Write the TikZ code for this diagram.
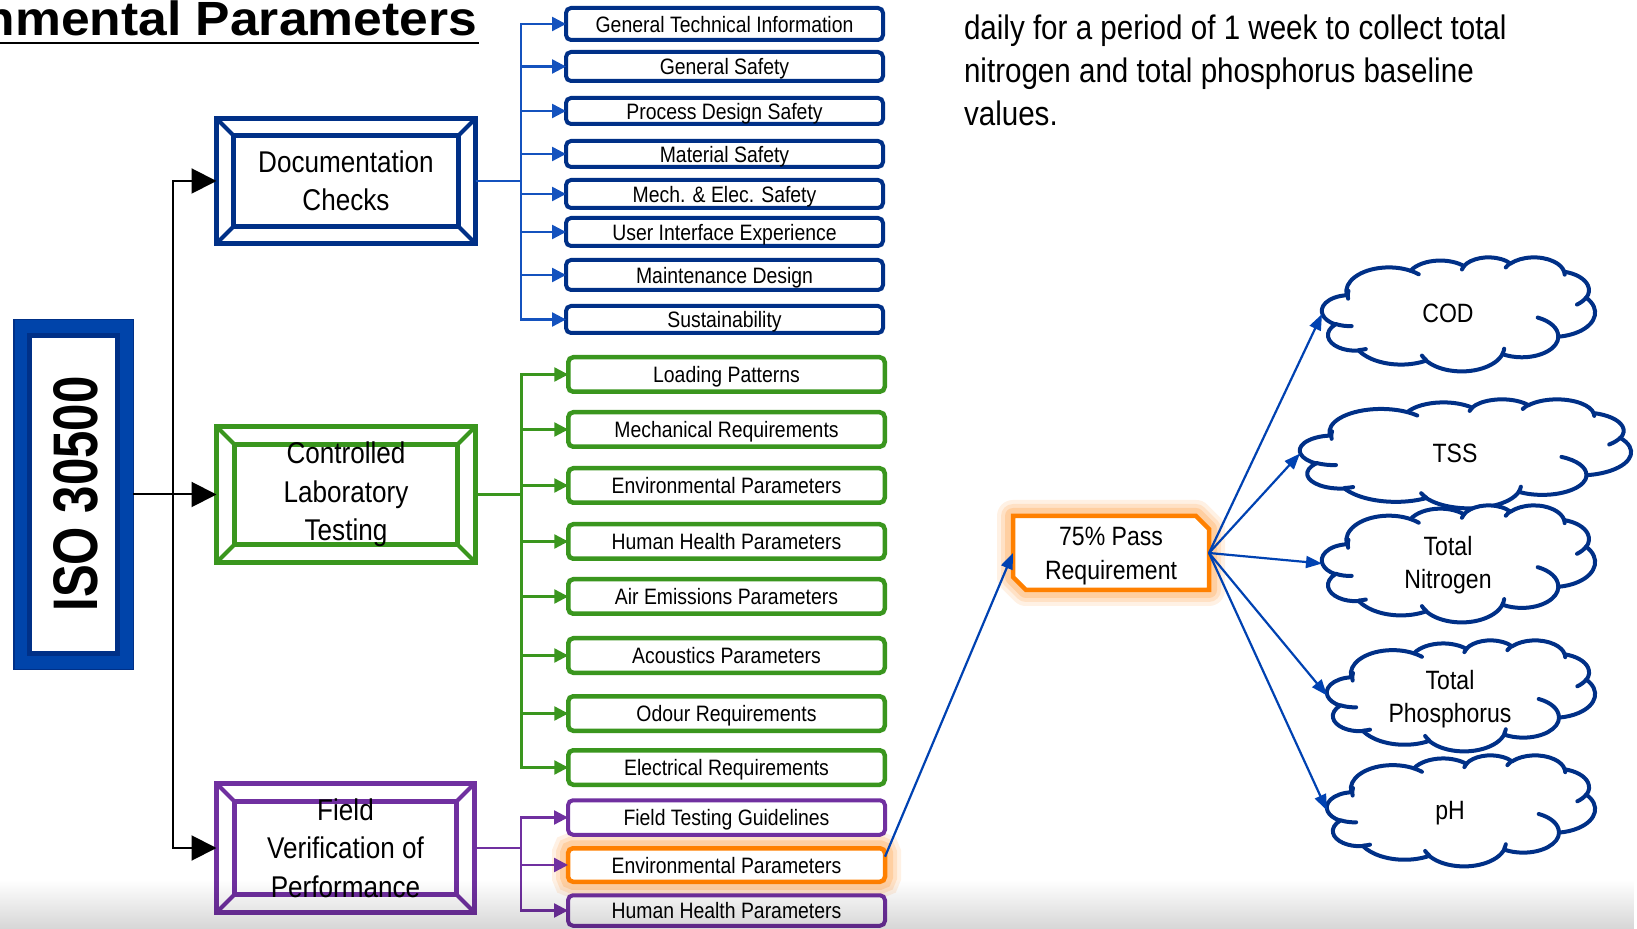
\documentclass[tikz,border=0pt]{standalone}
\usepackage{fontspec}
\setmainfont[FakeStretch=0.87]{Liberation Sans}
\newfontfamily\isofont[FakeStretch=0.78]{Liberation Sans}
\newfontfamily\titlefont[FakeStretch=1.075]{Liberation Sans}
\usetikzlibrary{arrows.meta,calc,fadings}

\definecolor{navy}{RGB}{0,48,135}
\definecolor{isoblue}{RGB}{0,68,170}
\definecolor{busblue}{RGB}{20,82,190}
\definecolor{arrowblue}{RGB}{0,66,178}
\definecolor{labgreen}{RGB}{58,150,30}
\definecolor{fieldpurple}{RGB}{112,48,160}
\definecolor{passorange}{RGB}{255,128,0}
\definecolor{haloorange}{RGB}{255,150,50}

\pgfdeclarelayer{paper}
\pgfdeclarelayer{halo}
\pgfsetlayers{paper,halo,main}

% Elliptic arcs of the cloud outline (radii and visual angles, 1/100 of a 43200 box);
% each is turned into a TikZ arc with parametric angles.
\newcommand\ooprep[5]{%
  \pgfmathsetmacro\ooT{atan2(#2*sin(#4),#3*cos(#4))}%
  \pgfmathsetmacro\ooU{atan2(#2*sin(#4+#5),#3*cos(#4+#5))}%
  \pgfmathsetmacro\ooD{mod(\ooU-\ooT+720,360)}%
  \expandafter\xdef\csname ooarc#1\endcsname{arc[start angle=\ooT,delta angle=\ooD,x radius=#2,y radius=#3]}%
}
\ooprep{A}{67.53}{91.90}{-190.48748}{123.78053}
\ooprep{B}{53.33}{72.67}{-144.10238}{89.94523}
\ooprep{C}{43.65}{59.45}{-145.80792}{99.72302}
\ooprep{D}{48.57}{65.95}{-130.98607}{117.24173}
\ooprep{E}{53.33}{72.73}{-78.70888}{109.02692}
\ooprep{F}{67.75}{92.20}{-46.26725}{130.269}
\ooprep{G}{57.85}{78.67}{0.62502}{114.03333}
\ooprep{H}{67.52}{92.15}{22.4516}{115.17255}
\ooprep{I}{77.20}{105.43}{66.24263}{75.71102}
\ooprep{J}{43.60}{59.18}{-274.94208}{146.73557}
\ooprep{K}{43.45}{59.45}{-246.8285}{152.51885}
\ooprep{a}{43.45}{59.45}{86.742}{26.4295}
\ooprep{b}{43.60}{59.18}{73.61047}{11.44747}
\ooprep{c}{67.52}{92.15}{137.62415}{14.0811}
\ooprep{d}{67.52}{92.15}{6.45327}{15.99835}
\ooprep{e}{57.85}{78.67}{-70.29235}{70.91737}
\ooprep{f}{53.33}{72.73}{30.31803}{27.7515}
\ooprep{g}{48.57}{65.95}{-13.74433}{14.85375}
\ooprep{h}{48.57}{65.95}{-149.18145}{18.19712}
\ooprep{i}{43.65}{59.45}{-163.49427}{17.68568}
\ooprep{j}{67.53}{91.90}{-66.70695}{12.31935}
\ooprep{k}{67.53}{91.90}{-190.48748}{25.00502}

% cloud drawn into the box of node #1, of width #2 and height #3 (px)
\newcommand\oocloud[3]{%
  \pgfmathsetmacro\cloudsx{#2/864}%
  \pgfmathsetmacro\cloudsy{#3/864}%
  \begin{scope}[shift={(#1.north west)}, x=\cloudsx pt, y=-\cloudsy pt]
    \filldraw[cloudline, fill=white] (39.00,143.70) \ooarcA \ooarcB \ooarcC \ooarcD
      \ooarcE \ooarcF \ooarcG \ooarcH \ooarcI \ooarcJ \ooarcK -- cycle;
    \draw[cloudline] (46.93,261.77) \ooarca (69.28,348.99) \ooarcb
      (164.78,390.90) \ooarcc (288.27,347.51) \ooarcd (341.29,229.54) \ooarce
      (417.98,153.54) \ooarcf (383.24,54.26) \ooarcg (290.78,39.52) \ooarch
      (221.41,47.20) \ooarci (140.00,51.92) \ooarcj (41.27,157.89) \ooarck;
  \end{scope}}

% bevelled double frame around node #1
\newcommand\bevel[3]{%
  \draw[#2, line width=2.4pt] (#1.north west) rectangle (#1.south east);
  \draw[#2, line width=2.4pt] ($(#1.north west)+(#3,#3)$) rectangle ($(#1.south east)+(-#3,-#3)$);
  \draw[#2, line width=2pt] (#1.north west) -- ++(#3,#3) (#1.north east) -- ++(-#3,#3)
    (#1.south west) -- ++(#3,-#3) (#1.south east) -- ++(-#3,-#3);}

\newcommand\passpath{(pass.north west) -- ($(pass.north east)+(-13,0)$) -- ($(pass.north east)+(0,13)$)
  -- (pass.south east) -- ($(pass.south west)+(13,0)$) -- ($(pass.south west)+(0,-13)$) -- cycle}

\tikzset{
  every node/.style={inner sep=0pt, outer sep=0pt},
  blk/.style={line width=1pt, -{Triangle[length=12.5pt,width=12.5pt]}},
  bus/.style={line width=1.2pt, -{Triangle[length=7pt,width=7pt]}},
  listbox/.style={draw, line width=2pt, rounded corners=2.5pt, fill=white, minimum width=158.5pt,
    font=\fontsize{11.15pt}{13pt}\selectfont, text height=8.25pt, text depth=0pt},
  framecore/.style={minimum width=129.5pt},
  framelabel/.style={align=center, font=\fontsize{15pt}{19.25pt}\selectfont},
  cloudlabel/.style={align=center, font=\fontsize{13.25pt}{16.5pt}\selectfont},
  cloudline/.style={draw=navy, line width=2pt, line join=round, line cap=round},
  reach/.style={draw=arrowblue, line width=1.1pt, -{Triangle[length=8pt,width=6pt]}},
}

\begin{document}
\begin{tikzpicture}[x=0.5pt, y=-0.5pt]
\useasboundingbox (0,0) rectangle (1637,929);
\clip (0,0) rectangle (1637,929);
\begin{pgfonlayer}{paper}
  \fill[white] (0,0) rectangle (1637,929);
\end{pgfonlayer}

% heading
\node[anchor=base east, font=\titlefont\bfseries\fontsize{24pt}{28pt}\selectfont] (title) at (477,36) {Environmental Parameters};
\draw[line width=1.25pt] ($(title.base west)+(0,7)$) -- ($(title.base east)+(2,7)$);

% standard block
\node[draw=navy, line width=0.75pt, fill=isoblue, minimum width=59.75pt, minimum height=174.75pt] (iso) at (73.5,494.5) {};
\node[draw=navy, line width=2.5pt, fill=white, minimum width=43.75pt, minimum height=159pt] (isoin) at (73.25,494.5) {};
\node[rotate=90, font=\isofont\bfseries\fontsize{31.5pt}{34pt}\selectfont] (isot) at (76,494) {ISO 30500};

% the three test stages
\node[framecore, minimum height=62.5pt] (doc) at (346,181) {};
\bevel{doc}{navy}{17}
\node[framelabel] (doct) at (doc.center) {Documentation\\Checks};

\node[framecore, minimum height=68pt] (ctl) at (346,494.5) {};
\bevel{ctl}{labgreen}{18}
\node[framelabel] (ctlt) at (ctl.center) {Controlled\\Laboratory\\Testing};

\node[framecore, minimum width=129pt, minimum height=64.5pt] (fld) at (345.5,848) {};
\bevel{fld}{fieldpurple}{18}
\node[framelabel] (fldt) at (fld.center) {Field\\Verification of\\Performance};

\coordinate (split) at (173,494.5);
\draw[blk] (split) |- (doc.west);
\draw[blk] (split) |- (fld.west);
\draw[blk] (iso.east) -- (ctl.west);

% documentation checks
\node[listbox, draw=navy, minimum height=16pt]   (g1) at (724.5,24)    {General Technical Information};
\node[listbox, draw=navy, minimum height=14.5pt] (g2) at (724.5,66.5)  {General Safety};
\node[listbox, draw=navy, minimum height=13pt]   (g3) at (724.5,111)   {Process Design Safety};
\node[listbox, draw=navy, minimum height=13pt]   (g4) at (724.5,154)   {Material Safety};
\node[listbox, draw=navy, minimum height=14pt]   (g5) at (724.5,194)   {Mech. \& Elec. Safety};
\node[listbox, draw=navy, minimum height=14pt]   (g6) at (724.5,232)   {User Interface Experience};
\node[listbox, draw=navy, minimum height=15pt]   (g7) at (724.5,275)   {Maintenance Design};
\node[listbox, draw=navy, minimum height=13.5pt] (g8) at (724.5,319.5) {Sustainability};
\foreach \n in {g1,g2,g3,g4,g5,g6,g7,g8}
  \draw[bus, busblue] (doc.east) -- ++(45.5,0) |- (\n.west);

% laboratory testing
\tikzset{labbox/.style={listbox, draw=labgreen, line width=2.25pt, minimum width=158.25pt, minimum height=17.25pt}}
\node[labbox] (c1) at (726.5,374.5) {Loading Patterns};
\node[labbox] (c2) at (726.5,429.5) {Mechanical Requirements};
\node[labbox] (c3) at (726.5,485.5) {Environmental Parameters};
\node[labbox] (c4) at (726.5,541.5) {Human Health Parameters};
\node[labbox] (c5) at (726.5,596.5) {Air Emissions Parameters};
\node[labbox] (c6) at (726.5,655.5) {Acoustics Parameters};
\node[labbox] (c7) at (726.5,713.5) {Odour Requirements};
\node[labbox] (c8) at (726.5,767.5) {Electrical Requirements};
\foreach \n in {c1,c2,c3,c4,c5,c6,c7,c8}
  \draw[bus, labgreen] (ctl.east) -- ++(46,0) |- (\n.west);

% field verification
\node[listbox, draw=fieldpurple, minimum height=17.25pt] (f1) at (726.5,817.5) {Field Testing Guidelines};
\node[listbox, draw=passorange, line width=2.25pt, minimum height=16.75pt] (envf) at (726.5,865) {Environmental Parameters};
\node[listbox, draw=fieldpurple, minimum height=15.25pt] (f3) at (726.5,910.5) {Human Health Parameters};
\foreach \n in {f1,envf,f3}
  \draw[bus, fieldpurple] (fld.east) -- ++(46.5,0) |- (\n.west);

% pass requirement
\node[minimum width=98pt, minimum height=37pt] (pass) at (1111,553) {};
\filldraw[fill=white, draw=passorange, line width=2.25pt] \passpath;
\node[cloudlabel, font=\fontsize{13.25pt}{17pt}\selectfont] (passt) at ($(pass.center)+(0,3)$) {75\% Pass\\Requirement};

\begin{pgfonlayer}{halo}
  \foreach \w/\o in {16pt/0.13, 12pt/0.17, 8pt/0.24} {
    \draw[haloorange, line width=\w, opacity=\o, line join=round] \passpath;
    \draw[haloorange, line width=\w, opacity=\o, rounded corners=2.5pt] (envf.north west) rectangle (envf.south east);
  }
\end{pgfonlayer}

% measured parameters
\node[minimum width=136.5pt, minimum height=57pt]   (cod) at (1458.5,314)   {};
\oocloud{cod}{273}{114}
\node[cloudlabel] (codt) at (1448,313.5) {COD};
\node[minimum width=165.5pt, minimum height=54.5pt] (tss) at (1465.5,453.5) {};
\oocloud{tss}{331}{109}
\node[cloudlabel] (tsst) at (1455,453.5) {TSS};
\node[minimum width=136.5pt, minimum height=58.5pt] (nit) at (1458.5,563.5) {};
\oocloud{nit}{273}{117}
\node[cloudlabel] (nitt) at (1448,565) {Total\\Nitrogen};
\node[minimum width=134pt, minimum height=55.5pt]   (pho) at (1461,695.5)   {};
\oocloud{pho}{268}{111}
\node[cloudlabel] (phot) at (1450,699) {Total\\Phosphorus};
\node[minimum width=134pt, minimum height=55.5pt]   (ph)  at (1461,810.5)   {};
\oocloud{ph}{268}{111}
\node[cloudlabel] (pht) at (1450,813) {pH};

\draw[reach] (envf.3) -- (pass.west);
\foreach \n in {cod,tss,nit,pho,ph}
  \draw[reach] (pass.east) -- (\n.west);

% note at the top right
\node[anchor=north west, align=left, font=\fontsize{17pt}{21.5pt}\selectfont] (note) at (964,15)
  {daily for a period of 1 week to collect total\\nitrogen and total phosphorus baseline\\values.};

% shading along the lower edge
\fill[black, opacity=0.16, path fading=north] (0,880) rectangle (1637,929);
\end{tikzpicture}
\end{document}
